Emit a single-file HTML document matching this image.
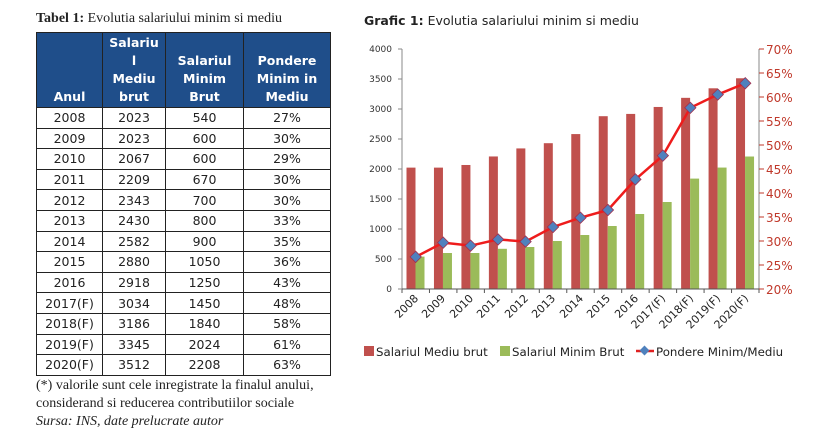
<!DOCTYPE html>
<html><head><meta charset="utf-8"><style>
body{margin:0;width:820px;height:434px;background:#fff;overflow:hidden;position:relative;font-family:"Liberation Sans",sans-serif}
.t1{position:absolute;left:36px;top:11px;font-family:"Liberation Serif",serif;font-size:14px;color:#222}
table{position:absolute;left:36px;top:32px;border-collapse:collapse;font-family:"DejaVu Sans","Liberation Sans",sans-serif;font-size:12.5px;color:#222}
th{background:#1f4e8a;color:#fff;font-weight:bold;font-size:12.5px;vertical-align:bottom;border:1px solid #222;line-height:18px;padding:0 0 1px 0}
td{border:1px solid #222;text-align:center;height:19.6px;padding:0}
.fn{position:absolute;left:36px;font-family:"Liberation Serif",serif;font-size:14px;color:#222}
</style></head><body>
<div class="t1"><b>Tabel 1:</b> Evolutia salariului minim si mediu</div>
<table>
<tr style="height:75px"><th style="width:65px">Anul</th><th style="width:62px">Salariu<br>l<br>Mediu<br>brut</th><th style="width:77px">Salariul<br>Minim<br>Brut</th><th style="width:86px">Pondere<br>Minim in<br>Mediu</th></tr>
<tr><td>2008</td><td>2023</td><td>540</td><td>27%</td></tr>
<tr><td>2009</td><td>2023</td><td>600</td><td>30%</td></tr>
<tr><td>2010</td><td>2067</td><td>600</td><td>29%</td></tr>
<tr><td>2011</td><td>2209</td><td>670</td><td>30%</td></tr>
<tr><td>2012</td><td>2343</td><td>700</td><td>30%</td></tr>
<tr><td>2013</td><td>2430</td><td>800</td><td>33%</td></tr>
<tr><td>2014</td><td>2582</td><td>900</td><td>35%</td></tr>
<tr><td>2015</td><td>2880</td><td>1050</td><td>36%</td></tr>
<tr><td>2016</td><td>2918</td><td>1250</td><td>43%</td></tr>
<tr><td>2017(F)</td><td>3034</td><td>1450</td><td>48%</td></tr>
<tr><td>2018(F)</td><td>3186</td><td>1840</td><td>58%</td></tr>
<tr><td>2019(F)</td><td>3345</td><td>2024</td><td>61%</td></tr>
<tr><td>2020(F)</td><td>3512</td><td>2208</td><td>63%</td></tr>
</table>
<div class="fn" style="top:378px">(*) valorile sunt cele inregistrate la finalul anului,</div>
<div class="fn" style="top:396px">considerand si reducerea contributiilor sociale</div>
<div class="fn" style="top:414px;font-style:italic">Sursa: INS, date prelucrate autor</div>

<svg id="c" width="820" height="434" style="position:absolute;left:0;top:0" font-family="DejaVu Sans, Liberation Sans, sans-serif">
<text x="364" y="25" font-size="12.5" fill="#222"><tspan font-weight="bold">Grafic 1:</tspan> Evolutia salariului minim si mediu</text>
<g id="bars"></g>
<line x1="402" y1="49" x2="402" y2="289" stroke="#888"/>
<line x1="759" y1="49" x2="759" y2="289" stroke="#888"/>
<line x1="402" y1="289" x2="759" y2="289" stroke="#555"/>
<g font-size="9" fill="#333" text-anchor="end">
<text x="392" y="52">4000</text><text x="392" y="82">3500</text><text x="392" y="112">3000</text><text x="392" y="142">2500</text><text x="392" y="172">2000</text><text x="392" y="202">1500</text><text x="392" y="232">1000</text><text x="392" y="262">500</text><text x="392" y="292">0</text>
</g>
<g font-size="12" fill="#c0392b">
<text x="766" y="54">70%</text><text x="766" y="78">65%</text><text x="766" y="102">60%</text><text x="766" y="126">55%</text><text x="766" y="150">50%</text><text x="766" y="174">45%</text><text x="766" y="198">40%</text><text x="766" y="222">35%</text><text x="766" y="246">30%</text><text x="766" y="270">25%</text><text x="766" y="294">20%</text>
</g>
<g id="ticks"></g>
<g font-size="11" fill="#222" text-anchor="end">
<text transform="translate(419,299) rotate(-45)">2008</text>
<text transform="translate(446,299) rotate(-45)">2009</text>
<text transform="translate(474,299) rotate(-45)">2010</text>
<text transform="translate(501,299) rotate(-45)">2011</text>
<text transform="translate(529,299) rotate(-45)">2012</text>
<text transform="translate(556,299) rotate(-45)">2013</text>
<text transform="translate(584,299) rotate(-45)">2014</text>
<text transform="translate(611,299) rotate(-45)">2015</text>
<text transform="translate(639,299) rotate(-45)">2016</text>
<text transform="translate(666,299) rotate(-45)">2017(F)</text>
<text transform="translate(694,299) rotate(-45)">2018(F)</text>
<text transform="translate(721,299) rotate(-45)">2019(F)</text>
<text transform="translate(749,299) rotate(-45)">2020(F)</text>
</g>
<g font-size="11.8" fill="#222">
<rect x="364" y="346" width="10" height="10" fill="#c0504d"/><text x="376" y="356">Salariul Mediu brut</text>
<rect x="500" y="346" width="10" height="10" fill="#9bbb59"/><text x="512" y="356">Salariul Minim Brut</text>
<line x1="636" y1="351" x2="654" y2="351" stroke="#e02020" stroke-width="2.5"/><rect x="641" y="347" width="7" height="7" fill="#4f81bd" transform="rotate(45 644.5 350.5)"/><text x="656" y="356">Pondere Minim/Mediu</text>
</g>
<g id="line"></g>
</svg>
<script>
var m=[2023,2023,2067,2209,2343,2430,2582,2880,2918,3034,3186,3345,3512],n=[540,600,600,670,700,800,900,1050,1250,1450,1840,2024,2208];
var ns="http://www.w3.org/2000/svg",b=document.getElementById("bars"),tk=document.getElementById("ticks"),ln=document.getElementById("line");
function el(t,a,p){var e=document.createElementNS(ns,t);for(var k in a)e.setAttribute(k,a[k]);p.appendChild(e);return e;}
var cw=357/13,pts=[];
for(var i=0;i<13;i++){var L=402+cw*i;
el("rect",{x:L+4.5,y:289-m[i]*0.06,width:9,height:m[i]*0.06,fill:"#c0504d"},b);
el("rect",{x:L+13.5,y:289-n[i]*0.06,width:9,height:n[i]*0.06,fill:"#9bbb59"},b);
el("line",{x1:L,y1:289,x2:L,y2:293,stroke:"#555"},tk);
var p=n[i]/m[i]*100;pts.push([L+13.7,289-(p-20)*4.8]);}
el("line",{x1:759,y1:289,x2:759,y2:293,stroke:"#555"},tk);
for(var j=0;j<=10;j++){el("line",{x1:759,y1:49+j*24,x2:764,y2:49+j*24,stroke:"#c0392b"},tk);}
for(var j=0;j<=8;j++){el("line",{x1:398,y1:49+j*30,x2:402,y2:49+j*30,stroke:"#888"},tk);}
el("polyline",{points:pts.map(function(q){return q.join(",")}).join(" "),fill:"none",stroke:"#ee1c1c","stroke-width":2.5},ln);
pts.forEach(function(q){el("rect",{x:q[0]-4,y:q[1]-4,width:8,height:8,fill:"#4f81bd",stroke:"#a03050","stroke-width":0.8,transform:"rotate(45 "+q[0]+" "+q[1]+")"},ln);});
</script>
</body></html>
